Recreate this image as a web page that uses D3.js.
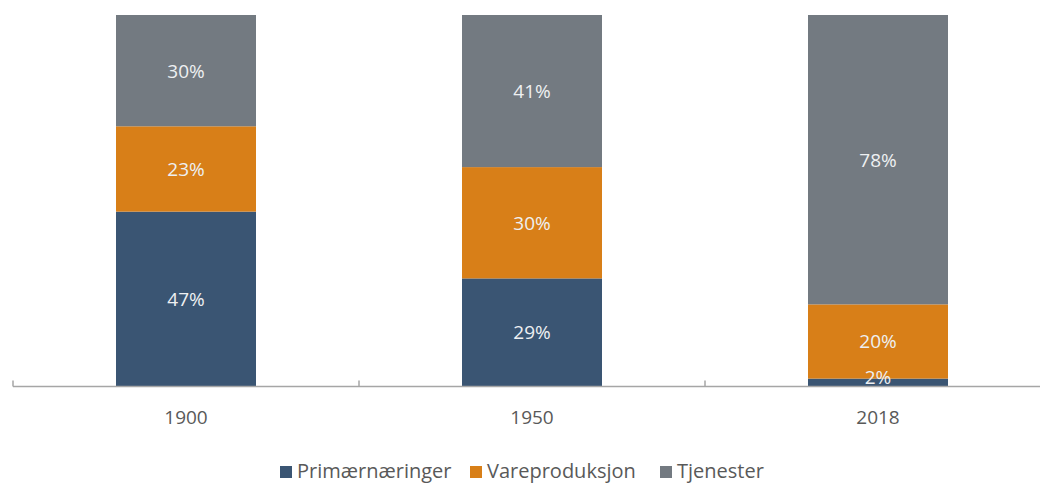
<!DOCTYPE html>
<html lang="no">
<head>
<meta charset="UTF-8">
<script src="https://d3js.org/d3.v7.min.js"></script>
<style>
  body { margin: 0; background: #fff; }
  text { font-family: "Open Sans", "Noto Sans", sans-serif; }
  .seg-label { fill: #eef0f2; font-size: 19px; text-anchor: middle; }
  .legend text { fill: #595959; font-size: 20px; }
</style>
</head>
<body>
<svg width="1040" height="485"></svg>
<script>
const years = ["1900", "1950", "2018"];
const series = ["Primærnæringer", "Vareproduksjon", "Tjenester"];
const primaer = [47, 29, 2];
const vare = [23, 30, 20];
const tjenester = [30, 41, 78];
const colors = ["#3a5573", "#d87f18", "#737a81"];

const svg = d3.select("svg");
const x = d3.scaleBand().domain(years).range([13, 1051]);
const y = d3.scaleLinear().domain([0, 100]).range([386, 15]);

const table = years.map((yr, i) => ({year: yr, [series[0]]: primaer[i], [series[1]]: vare[i], [series[2]]: tjenester[i]}));
const stacked = d3.stack().keys(series)(table);

const barW = 140;
const groups = svg.selectAll("g.layer").data(stacked).enter().append("g")
    .attr("class", "layer").attr("fill", (d, i) => colors[i]);

groups.selectAll("rect").data(d => d).enter().append("rect")
    .attr("x", d => x(d.data.year) + x.bandwidth() / 2 - barW / 2)
    .attr("width", barW)
    .attr("y", d => y(d[1]))
    .attr("height", d => y(d[0]) - y(d[1]));

// axis line with category boundary ticks
const axisG = svg.append("g").attr("transform", "translate(0,386.5)");
axisG.append("line").attr("x1", 13).attr("x2", 1040).attr("stroke", "#a6a6a6").attr("stroke-width", 1.5);
const bounds = d3.range(years.length + 1).map(i => 13 + i * x.bandwidth());
axisG.selectAll("line.tk").data(bounds).enter().append("line").attr("class", "tk")
    .attr("x1", d => d).attr("x2", d => d).attr("y1", -6).attr("y2", 0)
    .attr("stroke", "#a6a6a6").attr("stroke-width", 1.5);
axisG.selectAll("text").data(years).enter().append("text")
    .attr("x", d => x(d) + x.bandwidth() / 2).attr("y", 37.5)
    .attr("text-anchor", "middle").attr("fill", "#595959").attr("font-size", 19)
    .text(d => d);

// value labels, on top of every bar segment
const labels = svg.append("g");
stacked.forEach(layer => {
  labels.selectAll(null).data(layer).enter().append("text")
      .attr("class", "seg-label")
      .attr("x", d => x(d.data.year) + x.bandwidth() / 2)
      .attr("y", d => Math.min((y(d[0]) + y(d[1])) / 2 + 7, y(0) - 2))
      .text(d => (d[1] - d[0]) + "%");
});

// legend
const legendX = [280, 470, 660];
const legend = svg.append("g").attr("class", "legend");
series.forEach((s, i) => {
  legend.append("rect").attr("x", legendX[i]).attr("y", 466).attr("width", 12).attr("height", 12).attr("fill", colors[i]);
  legend.append("text").attr("x", legendX[i] + 17).attr("y", 478).text(s);
});
</script>
</body>
</html>
